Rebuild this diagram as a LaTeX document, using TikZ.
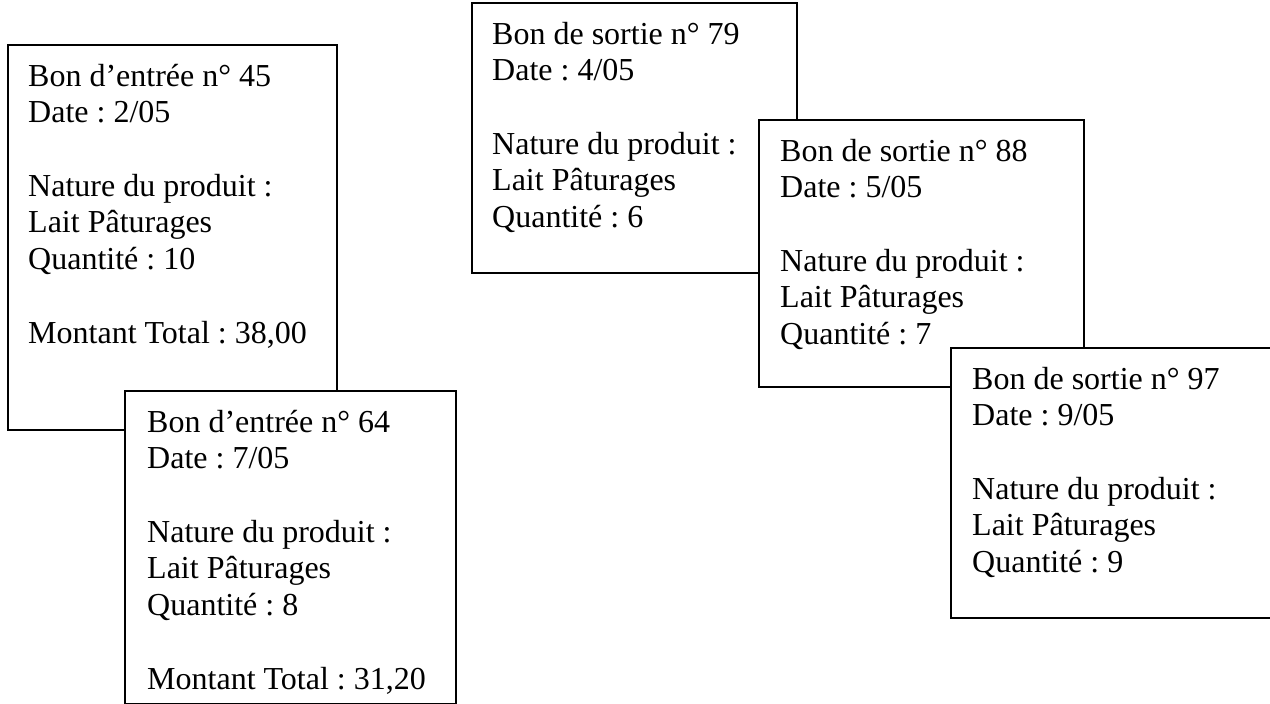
\documentclass[tikz,border=0pt]{standalone}
\usepackage{fontspec}
\setmainfont{Liberation Serif}
\frenchspacing
\begin{document}
\begin{tikzpicture}[x=1pt,y=-1pt,
  bonbox/.style={draw=black,line width=1.6pt,fill=white},
  bontext/.style={anchor=north west,inner sep=0pt,align=left,
    font=\fontsize{32}{36.7}\selectfont}]
\useasboundingbox (0,0) rectangle (1270,704);
\fill[white] (0,0) rectangle (1270,704);
\begin{scope}
\clip (0,0) rectangle (1270,704);
% Bon d'entree 45
\draw[bonbox] (8,45) rectangle (337,430);
\node[bontext] (b45) at (28,60.3) {\strut Bon d’entrée n° 45\\Date : 2/05\\[36.7pt]Nature du produit :\\Lait Pâturages\\Quantité : 10\\[36.7pt]Montant Total : 38,00};
% Bon d'entree 64
\draw[bonbox] (125,391) rectangle (456,704);
\node[bontext] (b64) at (147,406.3) {\strut Bon d’entrée n° 64\\Date : 7/05\\[36.7pt]Nature du produit :\\Lait Pâturages\\Quantité : 8\\[36.7pt]Montant Total : 31,20};
% Bon de sortie 79
\draw[bonbox] (472,3) rectangle (797,273);
\node[bontext] (s79) at (492,18.3) {\strut Bon de sortie n° 79\\Date : 4/05\\[36.7pt]Nature du produit :\\Lait Pâturages\\Quantité : 6};
% Bon de sortie 88
\draw[bonbox] (759,120) rectangle (1084,387);
\node[bontext] (s88) at (780,135.3) {\strut Bon de sortie n° 88\\Date : 5/05\\[36.7pt]Nature du produit :\\Lait Pâturages\\Quantité : 7};
% Bon de sortie 97
\draw[bonbox] (951,348) rectangle (1300,618);
\node[bontext] (s97) at (972,363.3) {\strut Bon de sortie n° 97\\Date : 9/05\\[36.7pt]Nature du produit :\\Lait Pâturages\\Quantité : 9};
\end{scope}
\end{tikzpicture}
\end{document}
